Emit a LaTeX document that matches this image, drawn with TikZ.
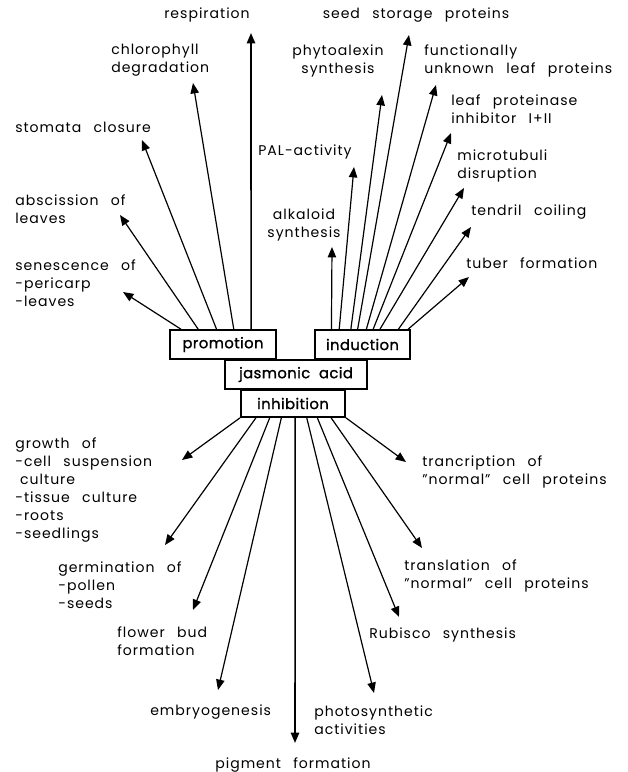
\documentclass[tikz,border=0pt]{standalone}
\usepackage{fontspec}
\setmainfont[LetterSpace=7, WordSpace=2.6]{Poppins}
\newfontfamily\boxfont[FakeBold=1.2, LetterSpace=3, WordSpace=2]{Poppins}
\usetikzlibrary{calc, arrows.meta}

\begin{document}
\begin{tikzpicture}[
    x=0.025cm, y=-0.025cm,
    box/.style={
        draw, line width=1.3pt, fill=white,
        minimum height=0.72cm, inner sep=0pt,
        font=\boxfont\fontsize{10.5}{12}\selectfont
    },
    effect/.style={align=left, inner sep=0pt, font=\fontsize{10}{12.8}\selectfont},
    arr/.style={-{Triangle[length=0.26cm, width=0.21cm]}, line width=0.85pt},
    axis/.style={arr, line width=1.1pt}
]
\useasboundingbox (0,0) rectangle (628,772);

% --- Cajas centrales ---
\node[box, minimum width=3.55cm] (jasmonic) at (296,374.5) {jasmonic acid};
\node[box, minimum width=2.6cm, minimum height=0.67cm] (inhib) at (293,403.5) {inhibition};
\node[box, minimum width=2.65cm] (promo) at (223,344.5) {promotion};
\node[box, minimum width=2.38cm] (induc) at (362.5,344.5) {induction};

% --- Efectos: promotion ---
\node[effect, anchor=center] (resp) at (207,15) {respiration};
\node[effect, anchor=west] (chloro) at (111,60) {chlorophyll\\degradation};
\node[effect, anchor=west] (stoma) at (15,127) {stomata closure};
\node[effect, anchor=west] (absc) at (15,209) {abscission of\\leaves};
\node[effect, anchor=west] (senes) at (15,283) {senescence of\\-pericarp\\-leaves};

% --- Efectos: induction ---
\node[effect, anchor=center] (seed) at (416,15) {seed storage proteins};
\node[effect, anchor=center, align=center] (phyto) at (338,61) {phytoalexin\\synthesis};
\node[effect, anchor=west] (funct) at (424,61) {functionally\\unknown leaf proteins};
\node[effect, anchor=center] (pal) at (305,152) {PAL-activity};
\node[effect, anchor=center, align=center] (alkal) at (304,225) {alkaloid\\synthesis};
\node[effect, anchor=west] (leafpi) at (451,109) {leaf proteinase\\inhibitor I+II};
\node[effect, anchor=west] (micro) at (457,166) {microtubuli\\disruption};
\node[effect, anchor=west] (tendril) at (471,212) {tendril coiling};
\node[effect, anchor=west] (tuber) at (466,263) {tuber formation};

% --- Efectos: inhibition ---
\node[effect, anchor=west] (growth) at (15,490.5) {growth of\\-cell suspension\\\hspace*{0.35em}culture\\-tissue culture\\-roots\\-seedlings};
\node[effect, anchor=west] (germ) at (58,585) {germination of\\-pollen\\-seeds};
\node[effect, anchor=west] (flower) at (117,641) {flower bud\\formation};
\node[effect, anchor=west] (embryo) at (150,712) {embryogenesis};
\node[effect, anchor=center] (pigment) at (293,765) {pigment formation};
\node[effect, anchor=west] (photo) at (314,720) {photosynthetic\\activities};
\node[effect, anchor=west] (rubisco) at (369,635) {Rubisco synthesis};
\node[effect, anchor=west] (transl) at (404,576) {translation of\\"normal" cell proteins};
\node[effect, anchor=west] (transc) at (422,472) {trancription of\\"normal" cell proteins};

% --- Puntas de flecha ---
\coordinate (tResp) at (251,33);
\coordinate (tChloro) at (193,83);
\coordinate (tStoma) at (142,140);
\coordinate (tAbsc) at (120,215);
\coordinate (tSenes) at (123,292);
\coordinate (tAlkal) at (332,247);
\coordinate (tPal) at (354,167);
\coordinate (tPhyto) at (382,95);
\coordinate (tSeed) at (409,35);
\coordinate (tFunct) at (436,85);
\coordinate (tLeafpi) at (451,133);
\coordinate (tMicro) at (464,188);
\coordinate (tTendril) at (471,227);
\coordinate (tTuber) at (469,277);
\coordinate (tGrowth) at (182,460);
\coordinate (tGerm) at (165,545);
\coordinate (tFlower) at (193,610);
\coordinate (tEmbryo) at (218,690);
\coordinate (tPigment) at (295,743);
\coordinate (tPhoto) at (374,693);
\coordinate (tRubisco) at (399,617);
\coordinate (tTransl) at (422,548);
\coordinate (tTransc) at (406,462);

% --- Flechas: promotion ---
\draw[arr] ($(promo.north west)!0.11!(promo.north east)$) -- (tSenes);
\draw[arr] ($(promo.north west)!0.27!(promo.north east)$) -- (tAbsc);
\draw[arr] ($(promo.north west)!0.44!(promo.north east)$) -- (tStoma);
\draw[arr] ($(promo.north west)!0.60!(promo.north east)$) -- (tChloro);
\draw[axis] ($(promo.north west)!0.76!(promo.north east)$) -- (tResp);

% --- Flechas: induction ---
\draw[arr] ($(induc.north west)!0.18!(induc.north east)$) -- (tAlkal);
\draw[arr] ($(induc.north west)!0.26!(induc.north east)$) -- (tPal);
\draw[arr] ($(induc.north west)!0.38!(induc.north east)$) -- (tPhyto);
\draw[arr] ($(induc.north west)!0.45!(induc.north east)$) -- (tSeed);
\draw[arr] ($(induc.north west)!0.54!(induc.north east)$) -- (tFunct);
\draw[arr] ($(induc.north west)!0.61!(induc.north east)$) -- (tLeafpi);
\draw[arr] ($(induc.north west)!0.68!(induc.north east)$) -- (tMicro);
\draw[arr] ($(induc.north west)!0.87!(induc.north east)$) -- (tTendril);
\draw[arr] ($(induc.north west)!0.97!(induc.north east)$) -- (tTuber);

% --- Flechas: inhibition ---
\draw[arr] (inhib.south west) -- (tGrowth);
\draw[arr] ($(inhib.south west)!0.15!(inhib.south east)$) -- (tGerm);
\draw[arr] ($(inhib.south west)!0.28!(inhib.south east)$) -- (tFlower);
\draw[arr] ($(inhib.south west)!0.39!(inhib.south east)$) -- (tEmbryo);
\draw[axis] ($(inhib.south west)!0.52!(inhib.south east)$) -- (tPigment);
\draw[arr] ($(inhib.south west)!0.63!(inhib.south east)$) -- (tPhoto);
\draw[arr] ($(inhib.south west)!0.73!(inhib.south east)$) -- (tRubisco);
\draw[arr] ($(inhib.south west)!0.86!(inhib.south east)$) -- (tTransl);
\draw[arr] (inhib.south east) -- (tTransc);

\end{tikzpicture}
\end{document}
